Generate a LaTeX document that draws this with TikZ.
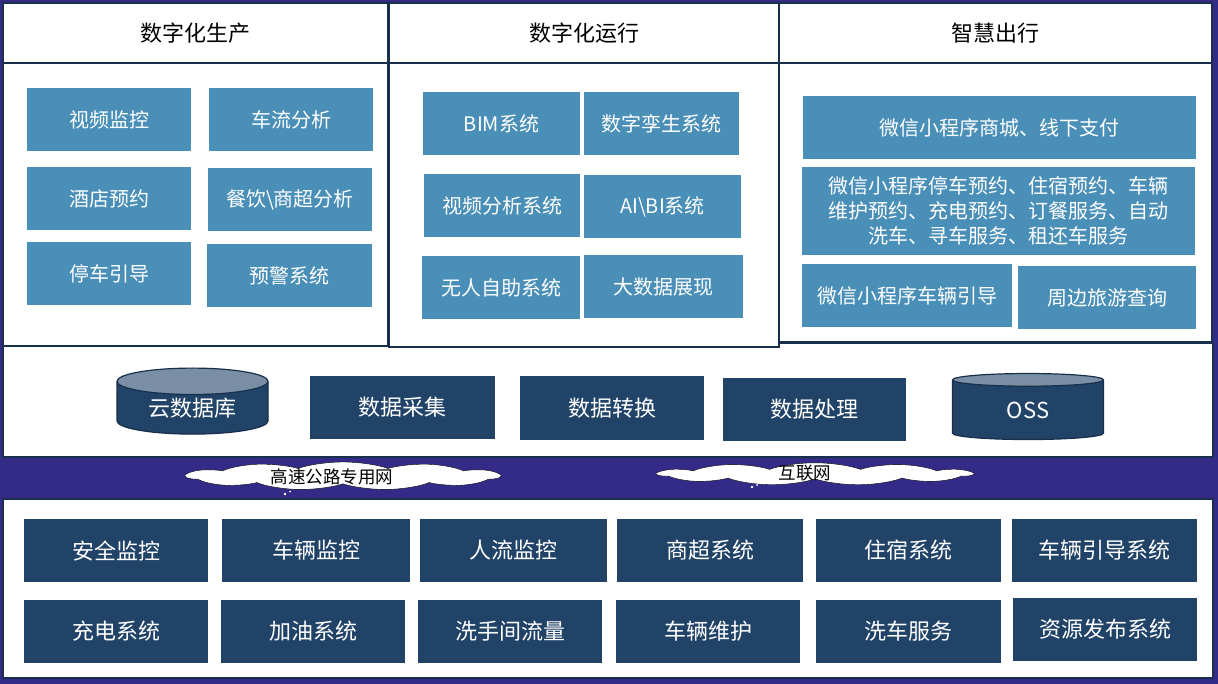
\documentclass[tikz,border=0pt]{standalone}
\usepackage{fontspec}
\setmainfont{Noto Sans CJK SC}
\usepackage{tikz}
\usetikzlibrary{shapes.geometric}
\usetikzlibrary{shapes.symbols}
\definecolor{bandpurple}{RGB}{52,42,136}
\definecolor{framenavy}{RGB}{24,48,76}
\definecolor{lightblue}{RGB}{74,143,184}
\definecolor{darknavy}{RGB}{33,67,104}
\definecolor{lidgray}{RGB}{122,143,166}

\begin{document}
\begin{tikzpicture}[x=1pt,y=-1pt,
    panel/.style={draw=framenavy, line width=2.5pt, fill=white},
    title/.style={text=black, font=\fontsize{22}{26}\selectfont},
    lightbox/.style={fill=lightblue, text=white, minimum height=63, inner sep=0pt, font=\fontsize{20}{25}\selectfont},
    darkbox/.style={fill=darknavy, text=white, minimum height=63, inner sep=0pt, font=\fontsize{22}{26}\selectfont},
    store/.style={cylinder, shape border rotate=90, aspect=0.3, draw=framenavy, line width=1.2pt,
        cylinder uses custom fill, cylinder body fill=darknavy, cylinder end fill=lidgray,
        text=white, minimum width=151, minimum height=66, inner sep=0pt, font=\fontsize{22}{26}\selectfont},
    net/.style={cloud, cloud puffs=11, cloud puff arc=110, draw=black, fill=white, thin,
        minimum width=314, minimum height=100, inner sep=0pt, yscale=0.28, transform shape},
    nettext/.style={text=black, font=\fontsize{17.5}{19}\selectfont}]
    \useasboundingbox (0,0) rectangle (1218,684);
    \fill[bandpurple] (0,0) rectangle (1218,684);

    % Data layer and device layer panels
    \draw[panel] (3,343) rectangle (1213,457);
    \draw[panel] (3,499) rectangle (1213,678);

    % Top panels: header and body
    \draw[panel] (3,63) rectangle (388,346);
    \draw[panel] (3,3) rectangle (388,63);
    \draw[panel] (389,63) rectangle (779,347);
    \draw[panel] (389,3) rectangle (779,63);
    \draw[panel] (779,63) rectangle (1212,342);
    \draw[panel] (779,3) rectangle (1212,63);
    \node[title] (prod) at (195.5,33) {数字化生产};
    \node[title] (oper) at (584,33) {数字化运行};
    \node[title] (trip) at (995.5,33) {智慧出行};

    % Digital production
    \node[lightbox, minimum width=164] (spjk) at (109,119.5) {视频监控};
    \node[lightbox, minimum width=164] (clfx) at (291,119.5) {车流分析};
    \node[lightbox, minimum width=164] (jdyy) at (109,198.5) {酒店预约};
    \node[lightbox, minimum width=164] (cyfx) at (290,199.5) {餐饮\textbackslash 商超分析};
    \node[lightbox, minimum width=164] (tcyd) at (109,273.5) {停车引导};
    \node[lightbox, minimum width=165] (yjxt) at (289.5,275.5) {预警系统};

    % Digital operation
    \node[lightbox, minimum width=157] (bim) at (501.5,123.5) {BIM系统};
    \node[lightbox, minimum width=155] (szls) at (661.5,123.5) {数字孪生系统};
    \node[lightbox, minimum width=156] (spfx) at (502,205.5) {视频分析系统};
    \node[lightbox, minimum width=157] (aibi) at (662.5,206.5) {AI\textbackslash BI系统};
    \node[lightbox, minimum width=158] (wrzz) at (501,287.5) {无人自助系统};
    \node[lightbox, minimum width=159] (dsj) at (663.5,286.5) {大数据展现};

    % Smart travel
    \node[lightbox, minimum width=393] (wxsc) at (999.5,127.5) {微信小程序商城、线下支付};
    \node[lightbox, minimum width=393, minimum height=88, align=center] (wxyy) at (998.5,211)
        {微信小程序停车预约、住宿预约、车辆\\维护预约、充电预约、订餐服务、自动\\洗车、寻车服务、租还车服务};
    \node[lightbox, minimum width=210] (wxyd) at (907,295.5) {微信小程序车辆引导};
    \node[lightbox, minimum width=178] (lycx) at (1107,297.5) {周边旅游查询};

    % Data layer
    \node[store] (ysjk) at (192.5,408) {云数据库};
    \node[darkbox, minimum width=185] (sjcj) at (402.5,407.5) {数据采集};
    \node[darkbox, minimum width=184] (sjzh) at (612,408) {数据转换};
    \node[darkbox, minimum width=183] (sjcl) at (814.5,409.5) {数据处理};
    \node[store] (oss) at (1028,410) {OSS};

    % Networks
    \node[net] (zwang) at (343,476) {};
    \node[nettext] (zwangt) at (332,477) {高速公路专用网};
    \node[net, minimum height=80] (hlw) at (815,474) {};
    \node[nettext] (hlwt) at (805,473) {互联网};
    \fill[white] (285,494) circle (1.3) (290,491.5) circle (1);
    \fill[white] (752,487) circle (1.3) (757,485) circle (1);

    % Device layer
    \node[darkbox, minimum width=184] (aqjk) at (116,550.5) {安全监控};
    \node[darkbox, minimum width=188] (cljk) at (316,550.5) {车辆监控};
    \node[darkbox, minimum width=187] (rljk) at (513.5,550.5) {人流监控};
    \node[darkbox, minimum width=186] (scxt) at (710,550.5) {商超系统};
    \node[darkbox, minimum width=185] (zsxt) at (908.5,550.5) {住宿系统};
    \node[darkbox, minimum width=185] (cyxt) at (1104.5,550.5) {车辆引导系统};
    \node[darkbox, minimum width=184] (cdxt) at (116,631.5) {充电系统};
    \node[darkbox, minimum width=184] (jyxt) at (313,631.5) {加油系统};
    \node[darkbox, minimum width=184] (xsjl) at (510,631.5) {洗手间流量};
    \node[darkbox, minimum width=184] (clwh) at (708,631.5) {车辆维护};
    \node[darkbox, minimum width=185] (xcfw) at (908.5,631.5) {洗车服务};
    \node[darkbox, minimum width=184] (zyfb) at (1105,629.5) {资源发布系统};
\end{tikzpicture}
\end{document}
